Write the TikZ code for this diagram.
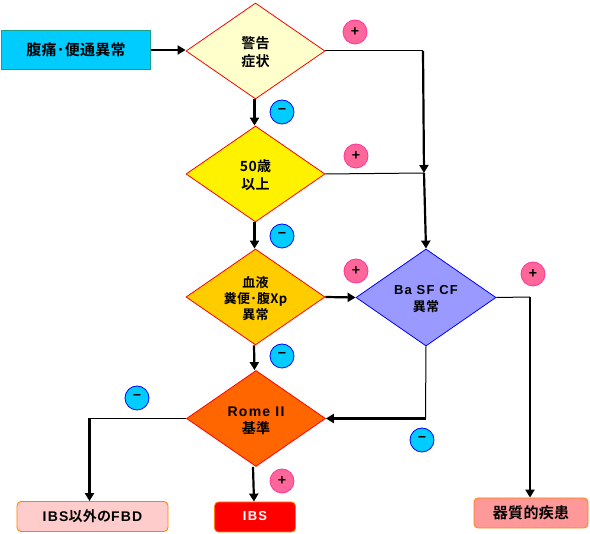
\documentclass[tikz,border=0pt]{standalone}
\usepackage{fontspec}
\setmainfont{Noto Sans CJK JP Bold}[LetterSpace=2]
\newfontfamily\wide[LetterSpace=9]{Liberation Sans Bold}
\usetikzlibrary{shapes.geometric,arrows.meta}
\definecolor{pluscol}{HTML}{FF6699}
\definecolor{plusedge}{HTML}{FF3399}
\definecolor{skyc}{HTML}{00CCFF}
\newcommand{\lab}[2]{\raisebox{#1}[\height][\depth]{\begin{tabular}{@{}c@{}}#2\end{tabular}}}
\tikzset{
  x=1pt,y=-1pt,
  dia/.style={diamond,draw=red,line width=0.8pt,minimum width=139pt,minimum height=96pt,inner sep=0pt,aspect=1.45,font=\fontsize{14}{18}\selectfont},
  boxr/.style={rectangle,rounded corners=4pt,draw=orange,line width=0.8pt,inner sep=0pt,align=center},
  plus/.style={circle,draw=plusedge,fill=pluscol,line width=0.8pt,minimum size=24pt,inner sep=0pt,font=\fontsize{14}{14}\selectfont},
  minus/.style={circle,draw=blue,fill=skyc,line width=0.8pt,minimum size=24pt,inner sep=0pt,font=\fontsize{14}{14}\selectfont},
  thin1/.style={line width=1pt,black},
  thick1/.style={line width=2.2pt,black},
  arr/.style={thick1,-{Triangle[length=8pt,width=9pt]}}
}
\begin{document}
\begin{tikzpicture}
\useasboundingbox (0,0) rectangle (590,534);
\node[draw={rgb,255:red,30;green,160;blue,130},fill=skyc,line width=0.9pt,minimum width=149pt,minimum height=39pt,inner sep=0pt,font=\fontsize{15}{15}\selectfont] (start) at (76,49.5) {\lab{-1.5pt}{腹痛･便通異常}};
\node[dia,fill={rgb,255:red,255;green,255;blue,204}] (d1) at (255.5,51) {\lab{-3pt}{警告\\症状}};
\node[dia,fill=yellow] (d2) at (255.5,174) {\lab{-2.5pt}{50歳\\以上}};
\node[dia,fill={rgb,255:red,255;green,204;blue,0},font=\fontsize{13}{16}\selectfont] (d3) at (255.5,297) {\lab{-3pt}{血液\\糞便･腹Xp\\異常}};
\node[dia,fill={rgb,255:red,255;green,102;blue,0},font=\fontsize{14}{16.5}\selectfont] (d4) at (256,418.5) {\lab{-3.5pt}{{\wide Rome II}\\基準}};
\node[dia,draw=blue,fill={rgb,255:red,153;green,153;blue,255},minimum width=140pt,minimum height=97pt,font=\fontsize{13}{17}\selectfont] (d5) at (426,297.5) {\lab{-2pt}{{\wide Ba SF CF}\\異常}};
\node[boxr,fill={rgb,255:red,255;green,204;blue,204},minimum width=151pt,minimum height=30pt,font=\fontsize{14}{14}\selectfont] (fbd) at (92.5,516.5) {\lab{-1pt}{{\wide IBS}以外の{\wide FBD}}};
\node[boxr,fill=red,text=white,minimum width=81pt,minimum height=30pt,font=\fontsize{13}{14}\selectfont] (ibs) at (255,517) {\lab{-1pt}{{\wide IBS}}};
\node[boxr,fill={rgb,255:red,255;green,153;blue,153},minimum width=114pt,minimum height=30pt,font=\fontsize{15}{15}\selectfont] (org) at (531,513) {\lab{-1pt}{器質的疾患}};
\node[plus] (p1) at (355,32) {+};
\node[minus] (m1) at (282,112) {−};
\node[plus] (p2) at (356,156) {+};
\node[minus] (m2) at (282,236) {−};
\node[plus] (p3) at (356,271) {+};
\node[minus] (m3) at (282,356) {−};
\node[minus] (m4) at (137,398) {−};
\node[plus] (p4) at (282,481) {+};
\node[minus] (m5) at (422,440) {−};
\node[plus] (p5) at (533,274) {+};
\coordinate (j1) at (423,51);
\coordinate (j2) at (424,173);
\coordinate (j3) at (425.5,418.5);
\coordinate (j4) at (530,297);
\coordinate (j5) at (89.5,418.5);
\draw[arr] (start.east |- 0,50) -- (d1.west |- 0,50);
\draw[arr] ([xshift=-1pt]d1.south) -- ([xshift=-1pt]d2.north);
\draw[arr] ([xshift=-1pt]d2.south) -- ([xshift=-1pt]d3.north);
\draw[arr] (d3.east) -- (d5.west);
\draw[arr] ([xshift=-1.5pt]d3.south) -- ([xshift=-1.5pt]d4.north);
\draw[arr] ([xshift=-3pt]d4.south) -- ([xshift=-1pt]ibs.north);
\draw[thin1] (d1.east) -- (j1);
\draw[arr] (j1) -- (j2);
\draw[thin1] (d2.east) -- (j2);
\draw[arr] (j2) -- (d5.north);
\draw[thin1] (d5.south) -- (j3);
\draw[arr] (j3) -- (d4.east);
\draw[thin1] (d5.east) -- (j4);
\draw[arr] (j4) -- (j4 |- org.north);
\draw[thin1] (d4.west) -- (j5);
\draw[arr] (j5) -- (j5 |- fbd.north);
\end{tikzpicture}
\end{document}
